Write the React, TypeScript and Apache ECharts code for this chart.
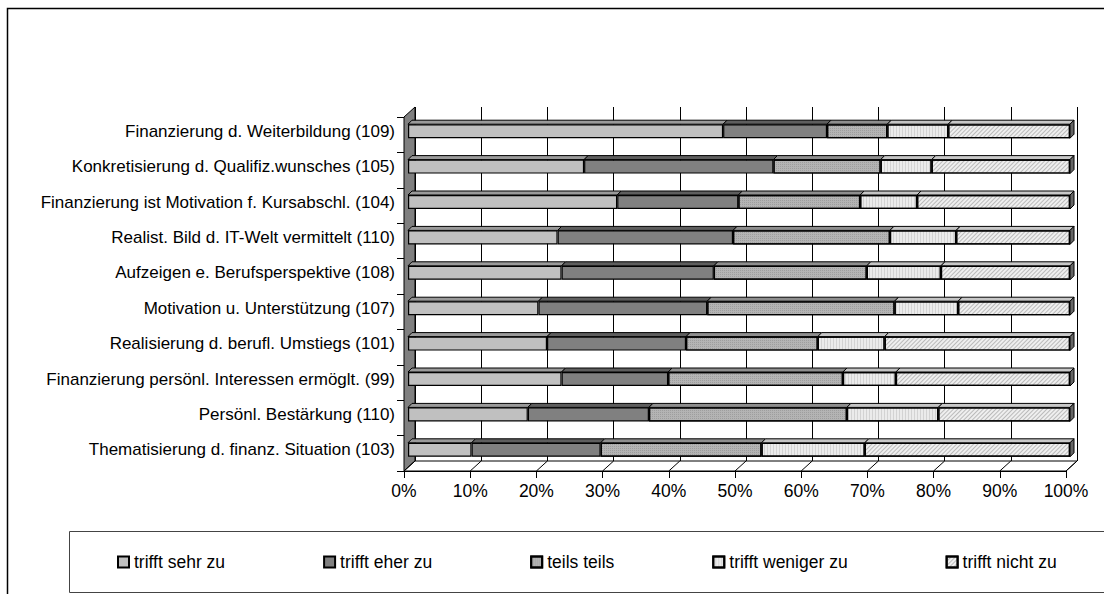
import React, { useEffect, useRef } from "react";
import * as echarts from "echarts";

const categories = [
  "Finanzierung d. Weiterbildung (109)",
  "Konkretisierung d. Qualifiz.wunsches (105)",
  "Finanzierung ist Motivation f. Kursabschl. (104)",
  "Realist. Bild d. IT-Welt vermittelt (110)",
  "Aufzeigen e. Berufsperspektive (108)",
  "Motivation u. Unterstützung (107)",
  "Realisierung d. berufl. Umstiegs (101)",
  "Finanzierung persönl. Interessen ermöglt. (99)",
  "Persönl. Bestärkung (110)",
  "Thematisierung d. finanz. Situation (103)",
];

const seriesNames = ["trifft sehr zu", "trifft eher zu", "teils teils", "trifft weniger zu", "trifft nicht zu"];

const sehr = [47.6, 26.6, 31.6, 22.6, 23.2, 19.7, 21.0, 23.2, 18.1, 9.6];
const eher = [15.7, 28.6, 18.3, 26.5, 23.0, 25.5, 21.0, 16.1, 18.3, 19.5];
const teils = [9.1, 16.2, 18.4, 23.7, 23.1, 28.3, 19.9, 26.4, 29.9, 24.3];
const weniger = [9.2, 7.7, 8.6, 10.0, 11.2, 9.6, 10.1, 8.0, 13.8, 15.6];
const nicht = [18.4, 20.9, 23.1, 17.2, 19.5, 16.9, 28.0, 26.3, 19.9, 31.0];

const xTicks = [0, 10, 20, 30, 40, 50, 60, 70, 80, 90, 100];

const FONT = "'Liberation Sans', Arial, sans-serif";
const FS = 17.5;
const FS_Y = 17;

const frontColors = ["#C0C0C0", "#808080", "#B4B4B4", "#EBEBEB", "#EFEFEF"];
const topColors = ["#9A9A9A", "#5E5E5E", "#8E8E8E", "#C4C4C4", "#C8C8C8"];
const decals: any[] = [
  null,
  null,
  { symbol: "rect", symbolSize: 1, dashArrayX: [1, 1], dashArrayY: [1, 1], color: "rgba(0,0,0,0.12)" },
  { symbol: "rect", symbolSize: 1, dashArrayX: [1, 0], dashArrayY: [1, 2], rotation: Math.PI / 2, color: "rgba(0,0,0,0.10)" },
  { symbol: "rect", symbolSize: 1, dashArrayX: [1, 0], dashArrayY: [1, 2], rotation: -Math.PI / 4, color: "rgba(0,0,0,0.22)" },
];

// geometry
const FL = 404, FT = 117, W = 662, H = 354;
const DX = 11, DY = -10;
const BX = 4, BY = -3.5;
const BAR_H = 14, DEPTH = 4;

export default function App() {
  const ref = useRef<HTMLDivElement>(null);
  useEffect(() => {
    const chart = echarts.init(ref.current!, null, { renderer: "svg", width: 1104, height: 594 });
    const all = [sehr, eher, teils, weniger, nicht];

    const topData: number[][] = [];
    categories.forEach((_, ci) => {
      let cum = 0;
      all.forEach((arr, si) => {
        topData.push([cum, cum + arr[ci], ci, si]);
        cum += arr[ci];
      });
    });

    const barSeries = all.map((arr, si) => ({
      name: seriesNames[si],
      type: "bar",
      stack: "total",
      xAxisIndex: 2,
      yAxisIndex: 2,
      barWidth: BAR_H,
      z: 3,
      data: arr,
      itemStyle: {
        color: frontColors[si],
        borderColor: "#000",
        borderWidth: 1.2,
        ...(decals[si] ? { decal: decals[si] } : {}),
      },
    }));

    const floorLines = xTicks.map((v) => {
      const x = FL + (W * v) / 100;
      return {
        type: "line",
        z: 1,
        shape: { x1: x, y1: FT + H, x2: x + DX, y2: FT + H + DY },
        style: { stroke: "#000", lineWidth: 1 },
      };
    });

    chart.setOption({
      animation: false,
      backgroundColor: "#fff",
      grid: [
        { left: FL, top: FT, width: W, height: H },
        { left: FL + DX, top: FT + DY, width: W, height: H },
        { left: FL + BX, top: FT + BY, width: W, height: H },
      ],
      xAxis: [
        {
          gridIndex: 0, type: "value", min: 0, max: 100, interval: 10,
          axisLine: { show: true, lineStyle: { color: "#000", width: 1 } },
          axisTick: { show: true, length: 7, lineStyle: { color: "#000" } },
          axisLabel: { formatter: "{value}%", fontSize: FS, color: "#000", margin: 11, fontFamily: FONT },
          splitLine: { show: false },
        },
        {
          gridIndex: 1, type: "value", min: 0, max: 100, interval: 10,
          axisLine: { show: false }, axisTick: { show: false }, axisLabel: { show: false },
          splitLine: { show: true, lineStyle: { color: "#000", width: 1 } },
        },
        { gridIndex: 2, type: "value", min: 0, max: 100, show: false },
      ],
      yAxis: [
        {
          gridIndex: 0, type: "category", data: categories, inverse: true,
          axisLine: { show: true, lineStyle: { color: "#000" } },
          axisTick: { show: true, length: 7, lineStyle: { color: "#000" } },
          axisLabel: { show: false },
        },
        { gridIndex: 1, type: "category", data: categories, inverse: true, show: false },
        {
          gridIndex: 2, type: "category", data: categories, inverse: true,
          axisLine: { show: false }, axisTick: { show: false },
          axisLabel: { fontSize: FS_Y, color: "#000", margin: 13, fontFamily: FONT },
        },
      ],
      legend: {
        data: seriesNames,
        left: 117,
        top: 553,
        padding: 0,
        icon: "rect",
        itemWidth: 11,
        itemHeight: 11,
        itemGap: 98,
        textStyle: { fontSize: FS, color: "#000", fontFamily: FONT },
        selectedMode: false,
      },
      series: [
        ...barSeries,
        {
          type: "custom",
          xAxisIndex: 2,
          yAxisIndex: 2,
          z: 4,
          silent: true,
          encode: { x: [0, 1], y: 2 },
          data: topData,
          renderItem: (params: any, api: any) => {
            const s0 = api.value(0), s1 = api.value(1), ci = api.value(2), si = api.value(3);
            const a = api.coord([s0, ci]);
            const b = api.coord([s1, ci]);
            const yTop = a[1] - BAR_H / 2;
            const children: any[] = [
              {
                type: "polygon",
                shape: { points: [[a[0], yTop], [b[0], yTop], [b[0] + DEPTH, yTop - DEPTH], [a[0] + DEPTH, yTop - DEPTH]] },
                style: { fill: topColors[si], stroke: "#000", lineWidth: 1 },
              },
            ];
            if (si === 4) {
              children.push({
                type: "polygon",
                shape: { points: [[b[0], yTop], [b[0] + DEPTH, yTop - DEPTH], [b[0] + DEPTH, yTop + BAR_H - DEPTH], [b[0], yTop + BAR_H]] },
                style: { fill: "#666", stroke: "#000", lineWidth: 1 },
              });
            }
            return { type: "group", children };
          },
        },
      ],
      graphic: [
        {
          type: "rect", z: 0,
          shape: { x: 7.5, y: 8.5, width: 1130, height: 640 },
          style: { fill: "none", stroke: "#000", lineWidth: 1.5 },
        },
        {
          type: "rect", z: 0,
          shape: { x: 69.5, y: 531.5, width: 1070, height: 61 },
          style: { fill: "none", stroke: "#444", lineWidth: 1 },
        },
        {
          type: "polygon", z: 1,
          shape: { points: [[FL, FT + H], [FL + DX, FT + H + DY], [FL + DX, FT + DY], [FL, FT]] },
          style: { fill: "#808080", stroke: "#000", lineWidth: 1 },
        },
        {
          type: "polygon", z: 1,
          shape: { points: [[FL, FT + H], [FL + DX, FT + H + DY], [FL + W + DX, FT + H + DY], [FL + W, FT + H]] },
          style: { fill: "#fff", stroke: "#000", lineWidth: 1 },
        },
        ...floorLines,
      ],
    });
    return () => chart.dispose();
  }, []);
  return (
    <div
      ref={ref}
      style={{ position: "fixed", left: 0, top: 0, width: 1104, height: 594, background: "#fff" }}
    />
  );
}
